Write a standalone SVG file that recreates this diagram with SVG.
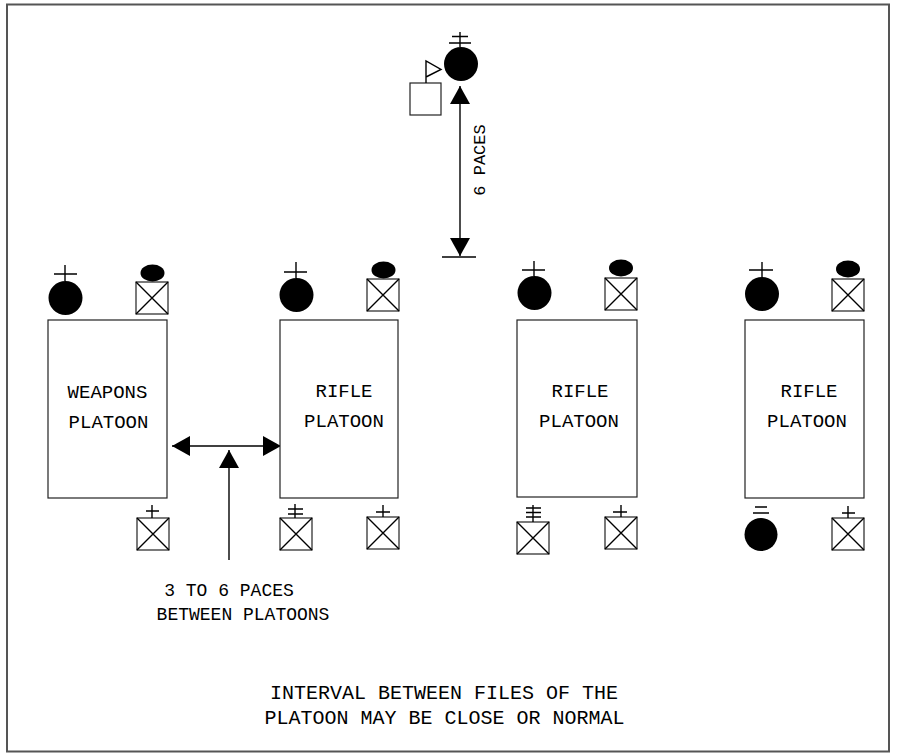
<svg xmlns="http://www.w3.org/2000/svg" width="897" height="756" viewBox="0 0 897 756">
<style>
.ln{stroke:#000;stroke-width:1.4;fill:none}
.box{stroke:#222;stroke-width:1.2;fill:#fff}
.dot{fill:#000;stroke:none}
.t{font-family:"Liberation Mono","Courier New",monospace;font-size:18px;fill:#000;text-anchor:middle}
.tp{font-size:19px}
.tn{font-size:20px}
</style>
<defs>
<marker id="ah" markerUnits="userSpaceOnUse" markerWidth="18" markerHeight="20" refX="18" refY="10" orient="auto-start-reverse" viewBox="0 0 18 20">
<path d="M0,0 L18,10 L0,20 z" fill="#000"/>
</marker>
<g id="xbox"><rect class="box" x="0" y="0" width="32" height="32"/><path class="ln" d="M0,0 L32,32 M32,0 L0,32" stroke-width="1.1"/></g>
</defs>
<rect x="7" y="4.5" width="882" height="747" fill="#fff" stroke="#555" stroke-width="2"/>

<g id="commander">
<circle class="dot" cx="461" cy="64" r="17"/>
<path class="ln" d="M460,32 V47 M452,36.5 H468 M449,43 H471"/>
<rect class="box" x="410" y="83" width="31" height="32"/>
<path class="ln" d="M426,83 V61 L441,69.5 L426,77" stroke-width="1.1"/>
</g>

<g id="connectors">
<line class="ln" x1="460" y1="86" x2="460" y2="256" stroke-width="1.6" marker-start="url(#ah)" marker-end="url(#ah)"/>
<line class="ln" x1="442" y1="257" x2="476" y2="257" stroke-width="1.6"/>
<line class="ln" x1="172" y1="446" x2="281" y2="446" stroke-width="1.6" marker-start="url(#ah)" marker-end="url(#ah)"/>
<line class="ln" x1="229" y1="560" x2="229" y2="450" stroke-width="1.6" marker-end="url(#ah)"/>
</g>

<g id="label-6-paces">
<text class="t" transform="translate(485,160) rotate(-90)" style="font-size:17px">6 PACES</text>
</g>

<g id="platoon-weapons">
<rect class="box" x="48" y="320" width="119" height="178"/>
<text class="t tp" x="107.5" y="398">WEAPONS</text>
<text class="t tp" x="108.5" y="428">PLATOON</text>
<circle class="dot" cx="65.5" cy="298" r="17"/>
<path class="ln" d="M65,281 V265 M54,274 H77"/>
<use href="#xbox" x="136" y="282"/>
<ellipse class="dot" cx="152.5" cy="273" rx="12" ry="8.5"/>
<use href="#xbox" x="137" y="518"/>
<path class="ln" d="M152,518 V505 M146,511 H159"/>
</g>

<g id="platoon-rifle-1">
<rect class="box" x="280" y="320" width="118" height="178"/>
<text class="t tp" x="344" y="397">RIFLE</text>
<text class="t tp" x="344" y="427">PLATOON</text>
<circle class="dot" cx="296.5" cy="295" r="17"/>
<path class="ln" d="M296,278 V262 M284,272 H307"/>
<use href="#xbox" x="367" y="279"/>
<ellipse class="dot" cx="383.5" cy="270" rx="12" ry="8.5"/>
<use href="#xbox" x="280" y="518"/>
<path class="ln" d="M295,518 V504 M288,509 H303 M288,514 H303"/>
<use href="#xbox" x="367" y="517"/>
<path class="ln" d="M383,517 V505 M376,512 H390"/>
</g>

<g id="platoon-rifle-2">
<rect class="box" x="517" y="320" width="120" height="177"/>
<text class="t tp" x="580" y="397">RIFLE</text>
<text class="t tp" x="579" y="427">PLATOON</text>
<circle class="dot" cx="534.5" cy="293" r="17"/>
<path class="ln" d="M534,276 V261 M522,270 H545"/>
<use href="#xbox" x="605" y="278"/>
<ellipse class="dot" cx="621" cy="268" rx="12" ry="8.5"/>
<use href="#xbox" x="517" y="522"/>
<path class="ln" d="M533,522 V505 M526,508 H541 M526,512.5 H541 M526,517 H541"/>
<use href="#xbox" x="605" y="517"/>
<path class="ln" d="M621,517 V505 M613,512 H627"/>
</g>

<g id="platoon-rifle-3">
<rect class="box" x="745" y="320" width="119" height="178"/>
<text class="t tp" x="809" y="397">RIFLE</text>
<text class="t tp" x="807" y="427">PLATOON</text>
<circle class="dot" cx="762" cy="294" r="17"/>
<path class="ln" d="M762,277 V262 M749,270 H773"/>
<use href="#xbox" x="832" y="279"/>
<ellipse class="dot" cx="848" cy="269" rx="12" ry="8.5"/>
<circle class="dot" cx="761" cy="534.5" r="16.5"/>
<path class="ln" d="M755,507 H767 M753,513 H769"/>
<use href="#xbox" x="832" y="518"/>
<path class="ln" d="M848,518 V506 M842,513 H855"/>
</g>

<g id="note-interval">
<text class="t" x="229" y="596">3 TO 6 PACES</text>
<text class="t" x="243" y="620">BETWEEN PLATOONS</text>
</g>
<g id="note-files">
<text class="t tn" x="444" y="699">INTERVAL BETWEEN FILES OF THE</text>
<text class="t tn" x="444.5" y="724">PLATOON MAY BE CLOSE OR NORMAL</text>
</g>
</svg>
